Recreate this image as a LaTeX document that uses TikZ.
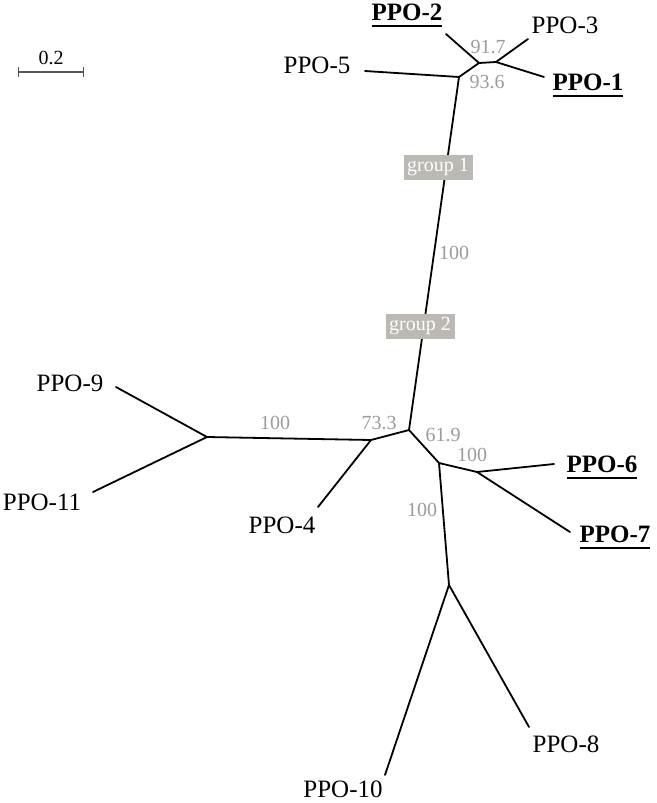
\documentclass[tikz,border=0pt]{standalone}
\usepackage{fontspec}
\setmainfont{Liberation Serif}
\usetikzlibrary{arrows.meta, positioning}
\definecolor{bootgray}{RGB}{155,155,155}
\definecolor{grpgray}{RGB}{188,184,180}
\definecolor{bargray}{RGB}{85,85,85}
\newcommand{\ulppo}[1]{\setbox0=\hbox{\bfseries #1}\rlap{\copy0}\rule[-7pt]{\wd0}{2pt}}
\tikzset{
	branch/.style={line width=1.8pt, line cap=round},
	leaf/.style={font=\fontsize{25}{30}\selectfont, anchor=base, inner sep=0pt},
	boot/.style={font=\fontsize{20}{24}\selectfont, text=bootgray, inner sep=0pt},
	grpbox/.style={fill=grpgray, text=white, font=\fontsize{20}{24}\selectfont, minimum width=69pt, minimum height=25pt, inner sep=2pt}
}

\begin{document}
\begin{tikzpicture}[x=1pt, y=-1pt]
		\useasboundingbox (0,0) rectangle (656,803);
			%scale bar
			\coordinate (sbL) at (18,72);
			\coordinate (sbR) at (84,72);
			\draw[bargray, line width=1.2pt, {Bar[width=10pt]}-{Bar[width=10pt]}] (sbL) -- (sbR) node[midway, above=3pt, font=\fontsize{20}{24}\selectfont, text=black]{0.2};

			%inner nodes
			\coordinate (nA) at (459,77);
			\coordinate (nB) at (479,63);
			\coordinate (nC) at (496,62);
			\coordinate (nD) at (409,430);
			\coordinate (nE) at (371,440);
			\coordinate (nF) at (207,437);
			\coordinate (nG) at (439,463);
			\coordinate (nH) at (477,472);
			\coordinate (nI) at (449,585);

			%tips
			\coordinate (t1) at (544,77);
			\coordinate (t2) at (446,34);
			\coordinate (t3) at (528,39);
			\coordinate (t4) at (318,507);
			\coordinate (t5) at (365,71);
			\coordinate (t6) at (554,464);
			\coordinate (t7) at (570,532);
			\coordinate (t8) at (529,727);
			\coordinate (t9) at (116,387);
			\coordinate (t10) at (385,775);
			\coordinate (t11) at (93,492);

			%branches
			\draw[branch] (t5) -- (nA) -- (nB) -- (nC);
			\draw[branch] (nB) -- (t2);
			\draw[branch] (nC) -- (t3);
			\draw[branch] (nC) -- (t1);
			\draw[branch] (nA) -- (nD);
			\draw[branch] (nD) -- (nE) -- (nF) -- (t9);
			\draw[branch] (nF) -- (t11);
			\draw[branch] (nE) -- (t4);
			\draw[branch] (nD) -- (nG) -- (nH) -- (t6);
			\draw[branch] (nH) -- (t7);
			\draw[branch] (nG) -- (nI) -- (t10);
			\draw[branch] (nI) -- (t8);

			%groups
			\node[grpbox] (grp1) at (438,167) {group 1};
			\node[grpbox] (grp2) at (420,326) {group 2};

			%bootstrap values
			\node[boot] (bs917) at (488,47) {91.7};
			\node[boot] (bs936) at (487,82) {93.6};
			\node[boot] (bsMain) at (454,253) {100};
			\node[boot] (bsLeft) at (275,423) {100};
			\node[boot] (bs733) at (379,423) {73.3};
			\node[boot] (bs619) at (443,435) {61.9};
			\node[boot] (bsRight) at (472,455) {100};
			\node[boot] (bsDown) at (422,510) {100};

			%leaf labels
			\node[leaf] (lab1) at (588,90) {\ulppo{PPO-1}};
			\node[leaf] (lab2) at (407,20) {\ulppo{PPO-2}};
			\node[leaf] (lab3) at (565,33) {PPO-3};
			\node[leaf] (lab4) at (282,533) {PPO-4};
			\node[leaf] (lab5) at (317,73) {PPO-5};
			\node[leaf] (lab6) at (602,472) {\ulppo{PPO-6}};
			\node[leaf] (lab7) at (615,542) {\ulppo{PPO-7}};
			\node[leaf] (lab8) at (566,752) {PPO-8};
			\node[leaf] (lab9) at (70,391) {PPO-9};
			\node[leaf] (lab10) at (343,797) {PPO-10};
			\node[leaf] (lab11) at (42,510) {PPO-11};
	\end{tikzpicture}
\end{document}
